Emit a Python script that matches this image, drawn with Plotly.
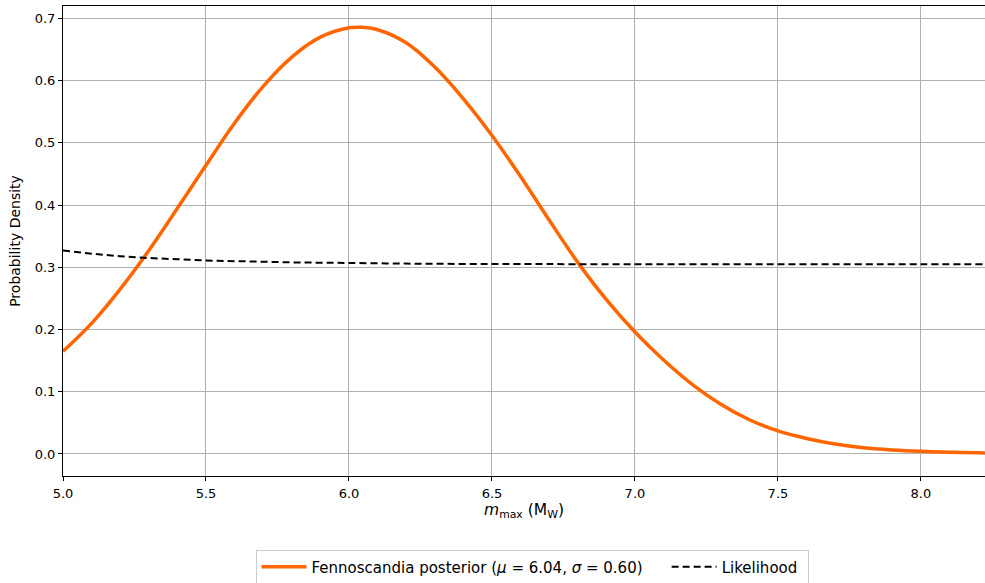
import plotly.graph_objects as go

# Posterior density
post_x = [5.0, 5.1, 5.2, 5.3, 5.4, 5.5, 5.6, 5.7, 5.8, 5.9, 6.0, 6.04, 6.1, 6.2, 6.3, 6.4,
          6.5, 6.6, 6.7, 6.8, 6.9, 7.0, 7.1, 7.2, 7.3, 7.4, 7.5, 7.6, 7.7, 7.8, 7.9,
          8.0, 8.1, 8.2, 8.3]
post_y = [0.165, 0.210, 0.265, 0.327, 0.395, 0.464, 0.532, 0.591, 0.638, 0.670, 0.685,
          0.686, 0.682, 0.661, 0.622, 0.571, 0.512, 0.446, 0.376, 0.308, 0.248, 0.196,
          0.151, 0.112, 0.080, 0.055, 0.037, 0.025, 0.016, 0.010, 0.0065, 0.0042,
          0.0027, 0.0018, 0.0012]

# Likelihood
lik_x = [5.0, 5.1, 5.2, 5.3, 5.4, 5.5, 5.6, 5.7, 5.8, 5.9, 6.0, 6.2, 6.4, 6.6, 7.0,
         7.5, 8.0, 8.3]
lik_y = [0.327, 0.322, 0.318, 0.315, 0.313, 0.311, 0.310, 0.309, 0.308, 0.3075, 0.307,
         0.306, 0.3055, 0.3053, 0.305, 0.305, 0.305, 0.305]

x_ticks = [5.0, 5.5, 6.0, 6.5, 7.0, 7.5, 8.0]
y_ticks = [0.0, 0.1, 0.2, 0.3, 0.4, 0.5, 0.6, 0.7]

FONT = "DejaVu Sans, Arial, sans-serif"

fig = go.Figure()
fig.add_trace(go.Scatter(
    x=post_x, y=post_y, mode="lines",
    line=dict(color="#ff6600", width=3.5, shape="spline", smoothing=1.0),
    name="Fennoscandia posterior (<i>μ</i> = 6.04, <i>σ</i> = 0.60)&nbsp;&nbsp;&nbsp;&nbsp;",
))
fig.add_trace(go.Scatter(
    x=lik_x, y=lik_y, mode="lines",
    line=dict(color="black", width=2, dash="7px,4px", shape="spline", smoothing=1.0),
    name="Likelihood&nbsp;",
))

fig.update_layout(
    width=985, height=583,
    margin=dict(l=63, r=0, t=6, b=107),
    paper_bgcolor="white", plot_bgcolor="white",
    font=dict(family=FONT, size=13, color="black"),
    showlegend=True,
    legend=dict(
        orientation="h", x=0.5087, xanchor="center",
        yref="container", y=0.0274, yanchor="middle",
        bordercolor="#cccccc", borderwidth=1, font=dict(size=15, family=FONT),
        itemwidth=45,
    ),
    xaxis=dict(
        range=[5.0, 8.224], tickvals=x_ticks, ticktext=[f"{v:.1f}" for v in x_ticks],
        showgrid=True, gridcolor="#b0b0b0", gridwidth=1, automargin=False,
        showline=True, linecolor="black", linewidth=1, mirror=True,
        ticks="outside", ticklen=4, tickcolor="black", zeroline=False,
        ticklabelstandoff=1,
        title=dict(text="<i>m</i><sub>max</sub> (M<sub>W</sub>)", font=dict(size=15.5), standoff=3),
    ),
    yaxis=dict(
        range=[-0.0354, 0.7201], tickvals=y_ticks, ticktext=[f"{v:.1f}" for v in y_ticks],
        showgrid=True, gridcolor="#b0b0b0", gridwidth=1, automargin=False,
        showline=True, linecolor="black", linewidth=1, mirror=False,
        ticks="outside", ticklen=4, tickcolor="black", zeroline=False,
        title=dict(text="Probability Density", font=dict(size=14), standoff=10),
    ),
)

fig.write_html("out.html", post_script="document.body.style.margin='0';",
               config={"displayModeBar": False})
